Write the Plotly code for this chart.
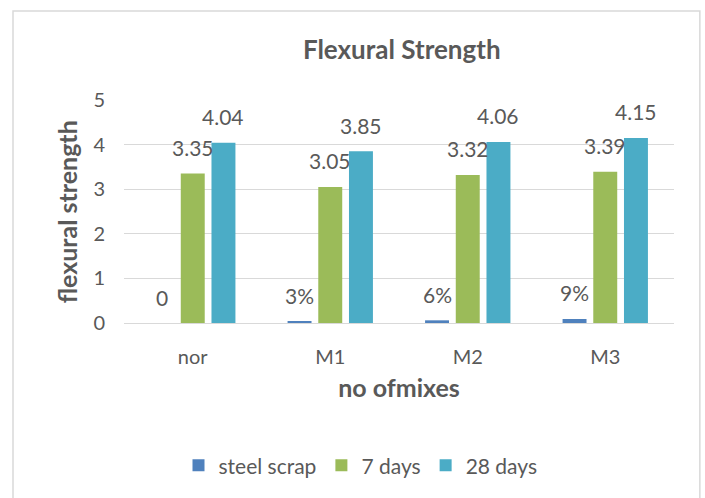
import plotly.graph_objects as go

# Mix designations and measured flexural strength values
mixes = ["nor", "M1", "M2", "M3"]
steel_scrap = [0, 0.03, 0.06, 0.09]
steel_scrap_labels = ["0", "3%", "6%", "9%"]
days_7 = [3.35, 3.05, 3.32, 3.39]
days_28 = [4.04, 3.85, 4.06, 4.15]
y_ticks = [0, 1, 2, 3, 4, 5]

series = [
    ("steel scrap", steel_scrap, steel_scrap_labels, "#4F81BD"),
    ("7 days", days_7, [f"{v:g}" for v in days_7], "#9BBB59"),
    ("28 days", days_28, [f"{v:g}" for v in days_28], "#4BACC6"),
]

TEXT = "#595959"
FONT = "Lato, Carlito, Calibri, sans-serif"

W, H = 705, 498
ML, MR, MT, MB = 124, 31, 100, 175
BARGAP, GROUPGAP = 0.33, 0.22

fig = go.Figure()
for name, vals, _, color in series:
    fig.add_trace(go.Bar(name=name, x=mixes, y=vals, marker_color=color,
                         marker_line_width=0))

# value labels above each bar, offset to that bar's slot in the group
cat_px = (W - ML - MR) / len(mixes)
slot_px = cat_px * (1 - BARGAP) / len(series)
for i, (_, vals, labels, _) in enumerate(series):
    dx = (i - (len(series) - 1) / 2) * slot_px
    for cat, v, lab in zip(mixes, vals, labels):
        fig.add_annotation(x=cat, y=v, text=lab, showarrow=False,
                           xshift=dx, yshift=26, yanchor="middle",
                           font=dict(size=21, color=TEXT, family=FONT))

# vertical axis title
fig.add_annotation(x=-0.104, y=0.5, xref="paper", yref="paper",
                   text="<b>flexural strength</b>", textangle=-90, showarrow=False,
                   xanchor="center", yanchor="middle",
                   font=dict(size=25, color=TEXT, family=FONT))

# chart frame
fig.add_shape(type="rect", xref="paper", yref="paper",
              x0=-0.2018, x1=1.047, y0=-0.85, y1=1.399,
              line=dict(color="#D9D9D9", width=1.5), fillcolor="rgba(0,0,0,0)",
              layer="below")

fig.update_layout(
    width=W, height=H,
    margin=dict(l=ML, r=MR, t=MT, b=MB),
    paper_bgcolor="white", plot_bgcolor="white",
    font=dict(family=FONT, color=TEXT, size=20),
    barmode="group", bargap=BARGAP, bargroupgap=GROUPGAP,
    showlegend=True,
    title=dict(text="<b>Flexural Strength</b>", x=0.505, xref="paper",
               xanchor="center", y=0.9, yanchor="middle",
               font=dict(size=26, color=TEXT, family=FONT)),
    xaxis=dict(title=dict(text="<b>no ofmixes</b>", font=dict(size=25), standoff=12),
               tickfont=dict(size=20), showline=True, linecolor="#D9D9D9",
               ticks="", showgrid=False, ticklabelstandoff=16),
    yaxis=dict(range=[0, 5], tickvals=y_ticks, tickfont=dict(size=20),
               showgrid=True, gridcolor="#D9D9D9", gridwidth=1.3,
               zeroline=False, showline=False, ticks="", ticklabelstandoff=18),
    legend=dict(orientation="h", x=0.43, xanchor="center", y=-0.64, yanchor="middle",
                font=dict(size=21), itemwidth=30, traceorder="normal"),
)

fig.write_html("out.html")
